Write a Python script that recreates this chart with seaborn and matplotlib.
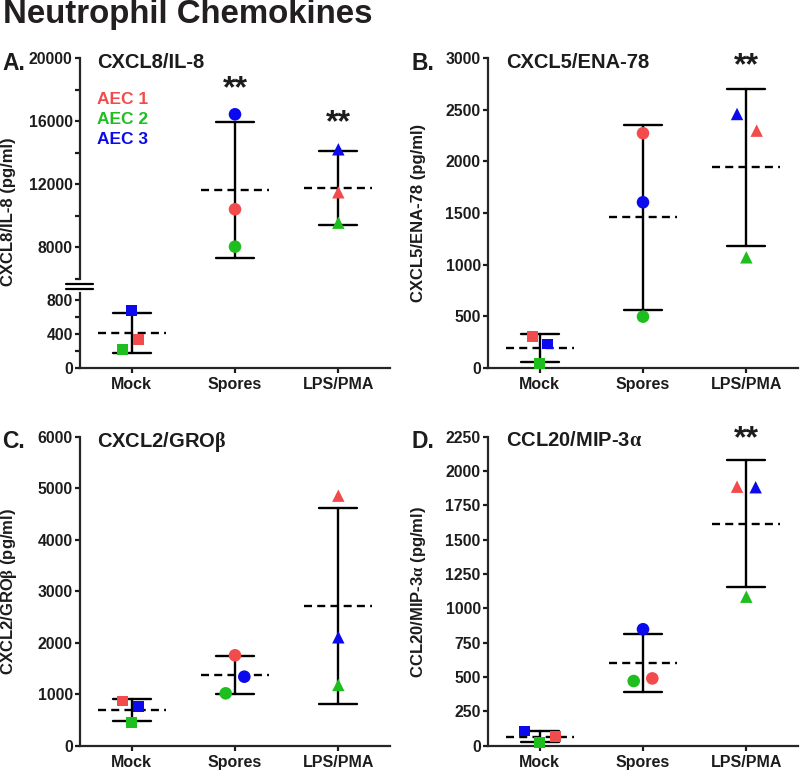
import numpy as np
import pandas as pd
import matplotlib
matplotlib.use("Agg")
import matplotlib.pyplot as plt
import seaborn as sns
from matplotlib.lines import Line2D

# ---------------- data ----------------
categories = ["Mock", "Spores", "LPS/PMA"]
donors = ["AEC 1", "AEC 2", "AEC 3"]

# values per condition in donor order (AEC 1, AEC 2, AEC 3), pg/ml
cxcl8_mock = [333, 220, 680]
cxcl8_spores = [10413, 8040, 16444]
cxcl8_lps = [11492, 9562, 14222]

cxcl5_mock = [303, 45, 232]
cxcl5_spores = [2272, 497, 1604]
cxcl5_lps = [2297, 1071, 2458]

cxcl2_mock = [868, 447, 757]
cxcl2_spores = [1755, 1017, 1340]
cxcl2_lps = [4855, 1179, 2105]

ccl20_mock = [66, 24, 107]
ccl20_spores = [490, 471, 848]
ccl20_lps = [1886, 1085, 1882]

panel_titles = ["CXCL8/IL-8", "CXCL5/ENA-78",
                r"CXCL2/GRO$\mathrm{\beta}$", r"CCL20/MIP-3$\mathrm{\alpha}$"]
panel_letters = ["A.", "B.", "C.", "D."]
significance = [["", "**", "**"], ["", "", "**"], ["", "", ""], ["", "", "**"]]

# ---------------- styles / layout ----------------
donor_colors = ["#F24B4B", "#1EBE1E", "#0A0AEC"]
marker_map = {"Mock": "s", "Spores": "o", "LPS/PMA": "^"}
size_map = {"Mock": 62, "Spores": 82, "LPS/PMA": 80}
ink = "#1c1c1c"

# horizontal scatter offsets (category units), per panel, per condition, per donor
offsets = {
    "A": [[0.07, -0.09, 0.0], [0, 0, 0], [0, 0, 0]],
    "B": [[-0.07, 0.0, 0.08], [0, 0, 0], [0.10, 0.0, -0.09]],
    "C": [[-0.09, 0.0, 0.07], [0, -0.09, 0.09], [0, 0, 0]],
    "D": [[0.15, 0.0, -0.15], [0.09, -0.09, 0], [-0.09, 0, 0.09]],
}
star_y = {"A": [None, 18430, 16270], "B": [None, None, 2980],
          "C": [None, None, None], "D": [None, None, 2277]}

sns.set_style("ticks")
plt.rcParams["font.family"] = ["Liberation Sans", "DejaVu Sans"]
plt.rcParams["font.weight"] = "bold"
plt.rcParams["axes.linewidth"] = 1.6
plt.rcParams["text.color"] = ink
plt.rcParams["mathtext.fontset"] = "custom"
plt.rcParams["mathtext.rm"] = "Liberation Serif"
plt.rcParams["mathtext.it"] = "Liberation Serif:italic"
plt.rcParams["mathtext.bf"] = "Liberation Sans:bold"

W, H = 800, 772
fig = plt.figure(figsize=(W / 100, H / 100), dpi=100)


def fx(px):
    return px / W


def fy(py):
    return 1 - py / H


def add_axes(left, right, top, bottom):
    return fig.add_axes([fx(left), fy(bottom), fx(right) - fx(left), (bottom - top) / H])


def make_df(vals_by_cond, offs):
    rows = []
    for ci, (cat, vals) in enumerate(zip(categories, vals_by_cond)):
        for di, v in enumerate(vals):
            rows.append(dict(condition=cat, donor=donors[di], value=v,
                             xpos=ci + offs[ci][di]))
    return pd.DataFrame(rows)


def draw(ax, df, clip):
    sns.pointplot(data=df, x="condition", y="value", order=categories,
                  errorbar="sd", capsize=0.37, color="black",
                  linestyle="none", marker="",
                  err_kws={"linewidth": 1.7, "color": "black", "zorder": 2},
                  ax=ax)
    means = df.groupby("condition")["value"].mean().reindex(categories).values
    idx = np.arange(len(categories))
    ax.hlines(means, idx - 0.33, idx + 0.33, colors="black", linewidth=1.7,
              linestyles=(0, (3.4, 2.2)), zorder=3)
    sns.scatterplot(data=df, x="xpos", y="value", hue="donor", hue_order=donors,
                    palette=donor_colors, style="condition", style_order=categories,
                    markers=marker_map, size="condition", sizes=size_map,
                    linewidth=0, legend=False, ax=ax, zorder=4, clip_on=clip)
    ax.set_xlim(-0.5, 2.5)
    ax.set_xlabel("")
    ax.set_ylabel("")
    ax.tick_params(axis="y", which="both", length=3.8, width=1.6, pad=1.5,
                   labelsize=11.3, colors=ink)
    ax.tick_params(axis="x", length=3.8, width=1.6, pad=3, labelsize=11.5, colors=ink)
    ax.set_xticks(idx)
    ax.set_xticklabels(categories, fontweight="bold")
    sns.despine(ax=ax)


def stars(ax, key):
    for ci, s in enumerate(significance["ABCD".index(key)]):
        if s and star_y[key][ci] is not None:
            ax.annotate(s, xy=(ci, star_y[key][ci]), xytext=(0, -10),
                        textcoords="offset points", ha="center", va="baseline",
                        fontsize=23, color=ink, annotation_clip=False)


def label_yticks(ax):
    ax.set_yticklabels([str(int(t)) for t in ax.get_yticks()], fontweight="bold")


# ---------------- Panel A (broken axis) ----------------
dfA = make_df([cxcl8_mock, cxcl8_spores, cxcl8_lps], offsets["A"])
axA_hi = add_axes(80, 390, 58.3, 278.8)
axA_lo = add_axes(80, 390, 293.5, 368)
draw(axA_hi, dfA, True)
draw(axA_lo, dfA, True)
axA_hi.set_ylim(6000, 20000)
axA_hi.set_yticks([8000, 12000, 16000, 20000])
axA_hi.set_yticks([6000, 10000, 14000, 18000], minor=True)
axA_hi.spines["bottom"].set_visible(False)
axA_hi.tick_params(axis="x", bottom=False, labelbottom=False)
axA_lo.set_ylim(0, 876)
axA_lo.set_yticks([0, 400, 800])
axA_lo.set_yticks([200, 600], minor=True)
label_yticks(axA_hi)
label_yticks(axA_lo)
for yb in (284, 289):
    fig.add_artist(Line2D([fx(66), fx(93)], [fy(yb), fy(yb)], color="black",
                          linewidth=1.6, transform=fig.transFigure))
stars(axA_hi, "A")

# ---------------- Panel B ----------------
dfB = make_df([cxcl5_mock, cxcl5_spores, cxcl5_lps], offsets["B"])
axB = add_axes(488, 798, 58, 368)
draw(axB, dfB, False)
axB.set_ylim(0, 3000)
axB.set_yticks(np.arange(0, 3001, 500))
label_yticks(axB)
stars(axB, "B")

# ---------------- Panel C ----------------
dfC = make_df([cxcl2_mock, cxcl2_spores, cxcl2_lps], offsets["C"])
axC = add_axes(80, 390, 436.7, 745.7)
draw(axC, dfC, False)
axC.set_ylim(0, 6000)
axC.set_yticks(np.arange(0, 6001, 1000))
label_yticks(axC)

# ---------------- Panel D ----------------
dfD = make_df([ccl20_mock, ccl20_spores, ccl20_lps], offsets["D"])
axD = add_axes(488, 798, 436.7, 745.7)
draw(axD, dfD, False)
axD.set_ylim(0, 2250)
axD.set_yticks(np.arange(0, 2251, 250))
label_yticks(axD)
stars(axD, "D")

# ---------------- texts ----------------
fig.text(fx(3), fy(15), "Neutrophil Chemokines", fontsize=23.8, fontweight="bold",
         ha="left", va="center", color="#231f20")

letter_pos = [(2, 63), (411, 63), (2, 442), (411, 441)]
title_pos = [(97, 62), (506, 62), (97, 442), (506, 441)]
ylabel_pos = [(9, 212), (418, 213), (9, 592), (418, 592)]
for i in range(4):
    fig.text(fx(letter_pos[i][0]), fy(letter_pos[i][1]), panel_letters[i],
             fontsize=16.5, fontweight="bold", ha="left", va="center")
    fig.text(fx(title_pos[i][0]), fy(title_pos[i][1]), panel_titles[i],
             fontsize=14.5, fontweight="bold", ha="left", va="center")
    fig.text(fx(ylabel_pos[i][0]), fy(ylabel_pos[i][1]), panel_titles[i] + " (pg/ml)",
             fontsize=12, fontweight="bold", ha="center", va="center", rotation=90)

for di, (name, col) in enumerate(zip(donors, donor_colors)):
    fig.text(fx(97), fy(100 + di * 19.7), name, color=col, fontsize=12.5,
             fontweight="bold", ha="left", va="center")

fig.savefig("out.png", dpi=100)
